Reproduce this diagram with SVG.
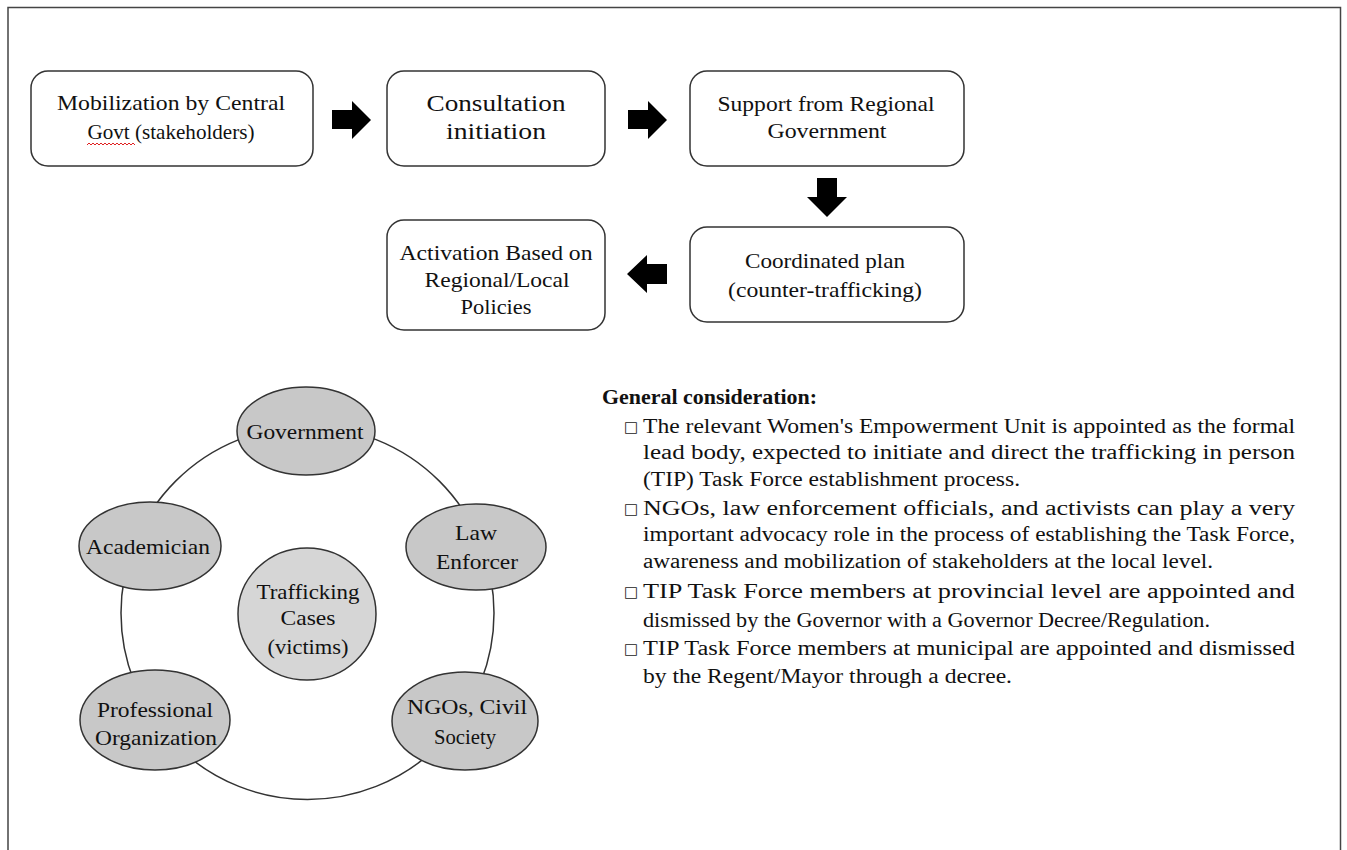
<svg xmlns="http://www.w3.org/2000/svg" width="1347" height="850" viewBox="0 0 1347 850">
<style>
.box{fill:#fff;stroke:#333;stroke-width:1.5}
.t{font-family:"Liberation Serif","Times New Roman",serif;font-size:21px;fill:#111;text-anchor:middle}
.big{font-family:"Liberation Serif","Times New Roman",serif;font-size:24px;fill:#111;text-anchor:middle}
.ell{fill:#c8c8c8;stroke:#333;stroke-width:1.5}
.ctr{fill:#d6d6d6;stroke:#333;stroke-width:1.5}
.p{font-family:"Liberation Serif","Times New Roman",serif;font-size:20px;fill:#111}
.b{font-family:"Liberation Serif","Times New Roman",serif;font-size:20px;fill:#111;font-weight:bold}
.blt{font-family:"DejaVu Sans",sans-serif;font-size:15px;fill:#222}
.arr{fill:#000}
</style>
<rect x="0" y="0" width="1347" height="850" fill="#fff"/>
<rect x="8" y="7.5" width="1332.5" height="860" fill="none" stroke="#444" stroke-width="1.5"/>

<g id="connectors">
<polygon class="arr" points="332,110 352,110 352,101 371,120 352,139 352,129 332,129"/>
<polygon class="arr" points="628,110 648,110 648,101 667,120 648,139 648,129 628,129"/>
<polygon class="arr" points="817,178 837,178 837,197 847,197 827,217 807,197 817,197"/>
<polygon class="arr" points="667,264 647,264 647,255 627,274 647,293 647,284 667,284"/>
<circle cx="307.5" cy="613" r="186.5" fill="none" stroke="#333" stroke-width="1.5"/>
</g>

<g id="node-mobilization">
<rect class="box" x="31" y="71" width="282" height="95" rx="17"/>
<text class="t" x="171" y="110" textLength="228" lengthAdjust="spacingAndGlyphs">Mobilization by Central</text>
<text class="t" x="171" y="139" textLength="167" lengthAdjust="spacingAndGlyphs">Govt (stakeholders)</text>
<path d="M87,145 l2,-2 l2,2 l2,-2 l2,2 l2,-2 l2,2 l2,-2 l2,2 l2,-2 l2,2 l2,-2 l2,2 l2,-2 l2,2 l2,-2 l2,2 l2,-2 l2,2 l2,-2 l2,2 l2,-2 l2,2 l2,-2 l2,2" fill="none" stroke="#e02020" stroke-width="1"/>
</g>

<g id="node-consultation">
<rect class="box" x="387" y="71" width="218" height="95" rx="17"/>
<text class="big" x="496" y="111" textLength="139" lengthAdjust="spacingAndGlyphs">Consultation</text>
<text class="big" x="496" y="139" textLength="100" lengthAdjust="spacingAndGlyphs">initiation</text>
</g>

<g id="node-support">
<rect class="box" x="690" y="71" width="274" height="95" rx="17"/>
<text class="t" x="826" y="111" textLength="217" lengthAdjust="spacingAndGlyphs">Support from Regional</text>
<text class="t" x="827" y="138" textLength="119" lengthAdjust="spacingAndGlyphs">Government</text>
</g>

<g id="node-coordinated">
<rect class="box" x="690" y="227" width="274" height="95" rx="17"/>
<text class="t" x="825" y="268" textLength="160" lengthAdjust="spacingAndGlyphs">Coordinated plan</text>
<text class="t" x="825" y="297" textLength="194" lengthAdjust="spacingAndGlyphs">(counter-trafficking)</text>
</g>

<g id="node-activation">
<rect class="box" x="387" y="220" width="218" height="110" rx="17"/>
<text class="t" x="496" y="260" textLength="193" lengthAdjust="spacingAndGlyphs">Activation Based on</text>
<text class="t" x="497" y="287" textLength="145" lengthAdjust="spacingAndGlyphs">Regional/Local</text>
<text class="t" x="496" y="314" textLength="71" lengthAdjust="spacingAndGlyphs">Policies</text>
</g>

<g id="node-government">
<ellipse class="ell" cx="306" cy="431" rx="69" ry="44"/>
<text class="t" x="305" y="439" textLength="117" lengthAdjust="spacingAndGlyphs">Government</text>
</g>
<g id="node-academician">
<ellipse class="ell" cx="150" cy="546" rx="71" ry="44"/>
<text class="t" x="148" y="554" textLength="124" lengthAdjust="spacingAndGlyphs">Academician</text>
</g>
<g id="node-law">
<ellipse class="ell" cx="476" cy="547" rx="70" ry="43"/>
<text class="t" x="476" y="540" textLength="42" lengthAdjust="spacingAndGlyphs">Law</text>
<text class="t" x="477" y="569" textLength="82" lengthAdjust="spacingAndGlyphs">Enforcer</text>
</g>
<g id="node-professional">
<ellipse class="ell" cx="155" cy="720" rx="75" ry="50"/>
<text class="t" x="155" y="717" textLength="116" lengthAdjust="spacingAndGlyphs">Professional</text>
<text class="t" x="156" y="745" textLength="122" lengthAdjust="spacingAndGlyphs">Organization</text>
</g>
<g id="node-ngos">
<ellipse class="ell" cx="465" cy="721" rx="73" ry="49"/>
<text class="t" x="467" y="714" textLength="120" lengthAdjust="spacingAndGlyphs">NGOs, Civil</text>
<text class="t" x="465" y="744" textLength="62" lengthAdjust="spacingAndGlyphs">Society</text>
</g>
<g id="node-trafficking">
<ellipse class="ctr" cx="307" cy="614" rx="69" ry="66"/>
<text class="t" x="308" y="599" textLength="103" lengthAdjust="spacingAndGlyphs">Trafficking</text>
<text class="t" x="308" y="625" textLength="55" lengthAdjust="spacingAndGlyphs">Cases</text>
<text class="t" x="308" y="654" textLength="81" lengthAdjust="spacingAndGlyphs">(victims)</text>
</g>

<g id="general-consideration">
<text class="b" x="602" y="404" textLength="215" lengthAdjust="spacingAndGlyphs">General consideration:</text>
<text class="blt" x="624" y="432">□</text>
<text class="p" x="643" y="433" textLength="652" lengthAdjust="spacingAndGlyphs">The relevant Women's Empowerment Unit is appointed as the formal</text>
<text class="p" x="643" y="459" textLength="652" lengthAdjust="spacingAndGlyphs">lead body, expected to initiate and direct the trafficking in person</text>
<text class="p" x="643" y="486" textLength="377" lengthAdjust="spacingAndGlyphs">(TIP) Task Force establishment process.</text>
<text class="blt" x="624" y="514">□</text>
<text class="p" x="643" y="515" textLength="652" lengthAdjust="spacingAndGlyphs">NGOs, law enforcement officials, and activists can play a very</text>
<text class="p" x="643" y="541" textLength="652" lengthAdjust="spacingAndGlyphs">important advocacy role in the process of establishing the Task Force,</text>
<text class="p" x="643" y="568" textLength="570" lengthAdjust="spacingAndGlyphs">awareness and mobilization of stakeholders at the local level.</text>
<text class="blt" x="624" y="597">□</text>
<text class="p" x="643" y="598" textLength="652" lengthAdjust="spacingAndGlyphs">TIP Task Force members at provincial level are appointed and</text>
<text class="p" x="643" y="627" textLength="567" lengthAdjust="spacingAndGlyphs">dismissed by the Governor with a Governor Decree/Regulation.</text>
<text class="blt" x="624" y="654">□</text>
<text class="p" x="643" y="655" textLength="652" lengthAdjust="spacingAndGlyphs">TIP Task Force members at municipal are appointed and dismissed</text>
<text class="p" x="643" y="683" textLength="369" lengthAdjust="spacingAndGlyphs">by the Regent/Mayor through a decree.</text>
</g>
</svg>
